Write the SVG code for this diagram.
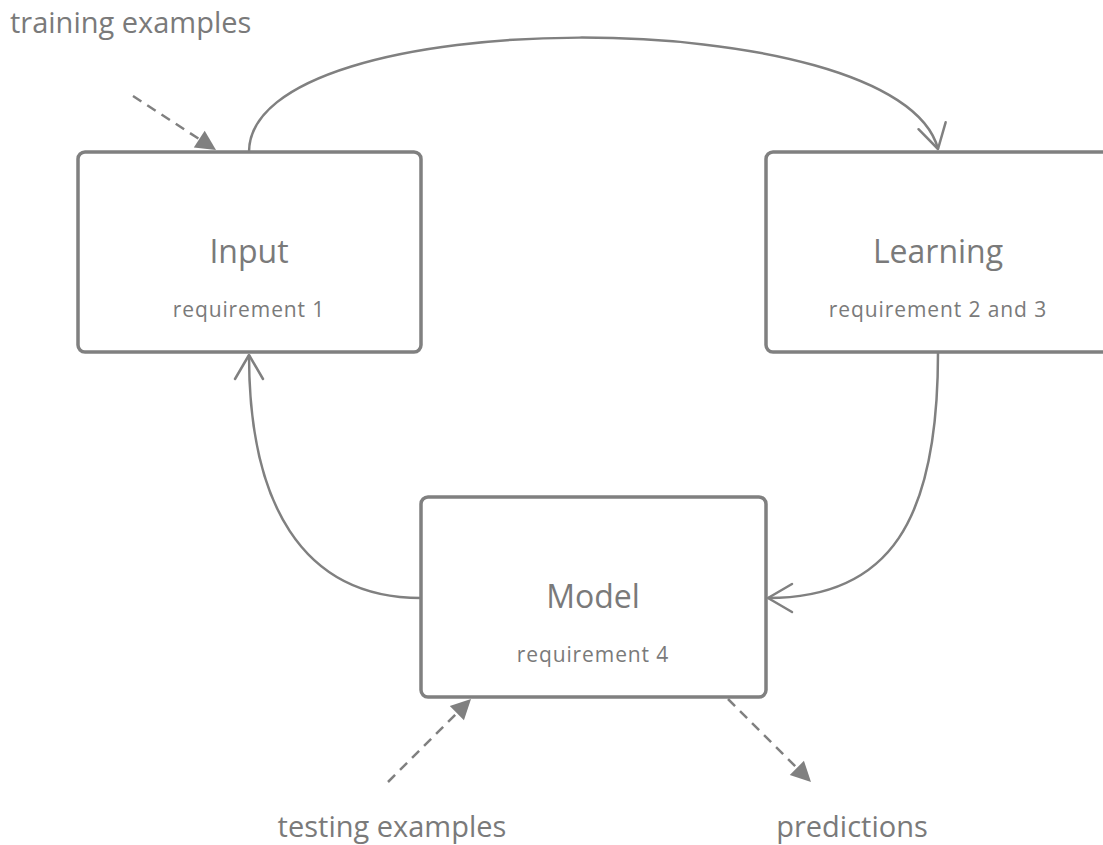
<svg xmlns="http://www.w3.org/2000/svg" width="1103" height="845" viewBox="0 0 1103 845">
  <style>
    .box { fill: #ffffff; stroke: #808080; stroke-width: 3.5; }
    .title { font-family: "Open Sans", "Noto Sans", sans-serif; font-size: 32px; fill: #7a7a7a; text-anchor: middle; }
    .sub { font-family: "Open Sans", "Noto Sans", sans-serif; font-size: 21px; letter-spacing: 0.9px; fill: #7a7a7a; text-anchor: middle; }
    .label { font-family: "Open Sans", "Noto Sans", sans-serif; font-size: 29px; fill: #7a7a7a; }
    .flow { fill: none; stroke: #808080; stroke-width: 2.5; }
    .dash { fill: none; stroke: #808080; stroke-width: 2.5; stroke-dasharray: 10 7; }
  </style>
  <defs>
    <!-- open chevron head for the cycle arrows -->
    <marker id="open" markerUnits="userSpaceOnUse" markerWidth="30" markerHeight="32" refX="26" refY="15" orient="auto" overflow="visible">
      <path d="M2,1 L26,15 L2,29" fill="none" stroke="#808080" stroke-width="2.5" stroke-linecap="round" stroke-linejoin="round"/>
    </marker>
    <!-- filled triangle head for the dashed data arrows -->
    <marker id="solid" markerUnits="userSpaceOnUse" markerWidth="24" markerHeight="24" refX="20" refY="10" orient="auto" overflow="visible">
      <path d="M0,0 L20,10 L0,20 Z" fill="#808080"/>
    </marker>
  </defs>

  <rect width="1103" height="845" fill="#ffffff"/>

  <g id="connectors">
    <path class="flow" d="M249,152 C249,0 900,0 938,149" marker-end="url(#open)"/>
    <path class="flow" d="M938,353 C938,520 890,598 768,598" marker-end="url(#open)"/>
    <path class="flow" d="M421,598 C300,598 249,500 249,355" marker-end="url(#open)"/>
    <path class="dash" d="M133,96 L216,150" marker-end="url(#solid)"/>
    <path class="dash" d="M388,782 L471,699" marker-end="url(#solid)"/>
    <path class="dash" d="M728,699 L811,782" marker-end="url(#solid)"/>
  </g>

  <g id="input">
    <rect class="box" x="78" y="152" width="343" height="200" rx="7"/>
    <text class="title" x="249" y="263">Input</text>
    <text class="sub" x="249" y="317">requirement 1</text>
  </g>

  <g id="learning">
    <rect class="box" x="766" y="152" width="344" height="200" rx="7"/>
    <text class="title" x="938" y="263">Learning</text>
    <text class="sub" x="938" y="317">requirement 2 and 3</text>
  </g>

  <g id="model">
    <rect class="box" x="421" y="497" width="345" height="200" rx="7"/>
    <text class="title" x="593" y="608">Model</text>
    <text class="sub" x="593" y="662">requirement 4</text>
  </g>

  <g id="training-examples">
    <text class="label" x="10" y="33">training examples</text>
  </g>
  <g id="testing-examples">
    <text class="label" x="392" y="837" text-anchor="middle">testing examples</text>
  </g>
  <g id="predictions">
    <text class="label" x="852" y="837" text-anchor="middle">predictions</text>
  </g>
</svg>
